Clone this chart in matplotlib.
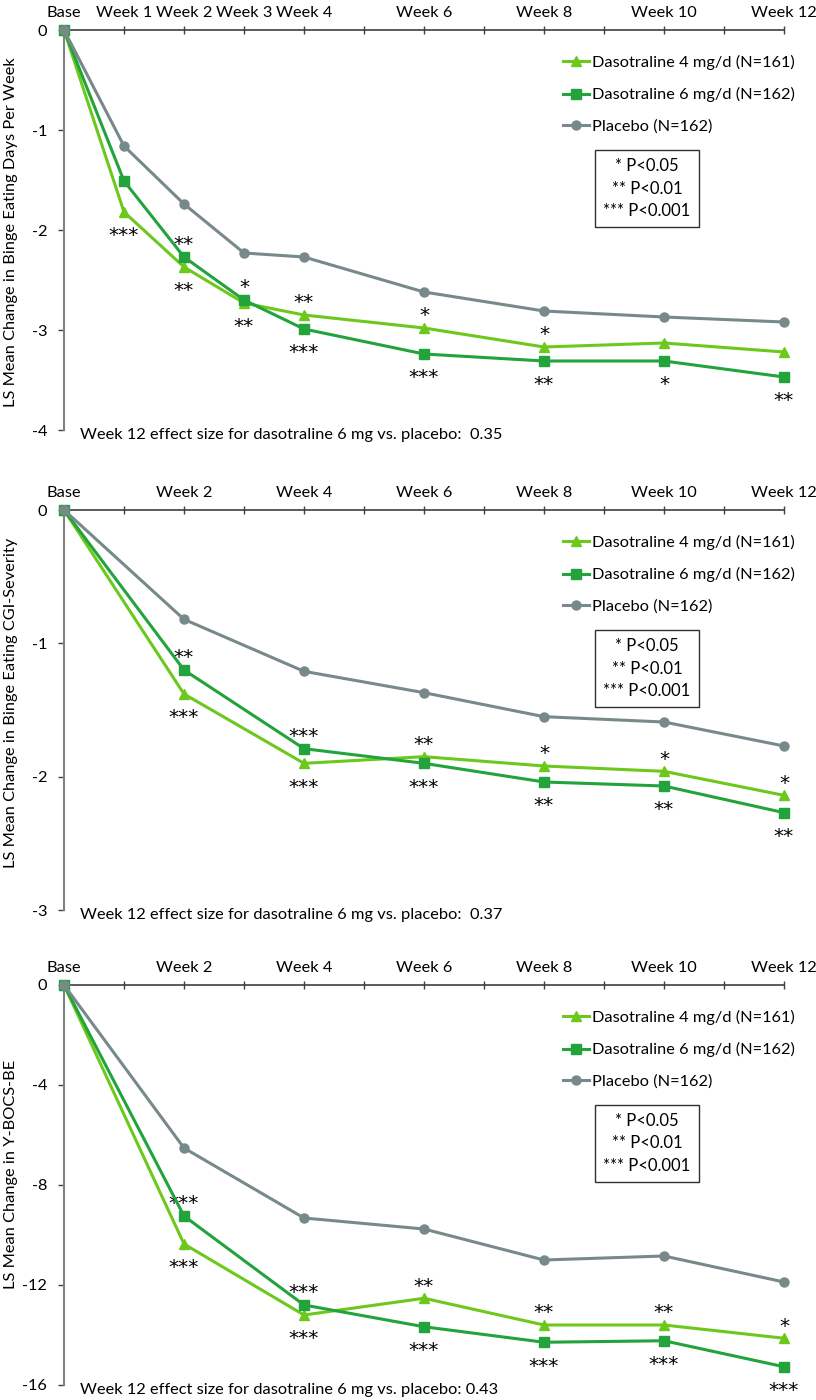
import numpy as np
import matplotlib
matplotlib.use("Agg")
import matplotlib.pyplot as plt
from matplotlib.lines import Line2D

plt.rcParams['font.family'] = ['Lato', 'DejaVu Sans']

# panel 1: binge eating days per week
weeks1 = [0, 1, 2, 3, 4, 6, 8, 10, 12]
xlab1 = ["Base", "Week 1", "Week 2", "Week 3", "Week 4", "Week 6", "Week 8", "Week 10", "Week 12"]
d4_1 = [0, -1.82, -2.37, -2.73, -2.85, -2.98, -3.17, -3.13, -3.22]
d6_1 = [0, -1.51, -2.27, -2.70, -2.99, -3.24, -3.31, -3.31, -3.47]
pl_1 = [0, -1.16, -1.74, -2.23, -2.27, -2.62, -2.81, -2.87, -2.92]
sig4_1 = ["", "***", "**", "**", "**", "*", "*", "", ""]
sig6_1 = ["", "", "**", "*", "***", "***", "**", "*", "**"]
yt1 = [0, -1, -2, -3, -4]

# panel 2: CGI-Severity
weeks2 = [0, 2, 4, 6, 8, 10, 12]
xlab2 = ["Base", "Week 2", "Week 4", "Week 6", "Week 8", "Week 10", "Week 12"]
d4_2 = [0, -1.38, -1.90, -1.85, -1.92, -1.96, -2.14]
d6_2 = [0, -1.20, -1.79, -1.90, -2.04, -2.07, -2.27]
pl_2 = [0, -0.82, -1.21, -1.37, -1.55, -1.59, -1.77]
sig4_2 = ["", "***", "***", "**", "*", "*", "*"]
sig6_2 = ["", "**", "***", "***", "**", "**", "**"]
yt2 = [0, -1, -2, -3]

# panel 3: Y-BOCS-BE
weeks3 = weeks2
xlab3 = xlab2
d4_3 = [0, -10.36, -13.2, -12.53, -13.6, -13.6, -14.13]
d6_3 = [0, -9.24, -12.8, -13.67, -14.29, -14.23, -15.27]
pl_3 = [0, -6.52, -9.32, -9.76, -11.0, -10.84, -11.88]
sig4_3 = ["", "***", "***", "**", "**", "**", "*"]
sig6_3 = ["", "***", "***", "***", "***", "***", "***"]
yt3 = [0, -4, -8, -12, -16]

ylabels = ["LS Mean Change in Binge Eating Days Per Week",
           "LS Mean Change in Binge Eating CGI-Severity",
           "LS Mean Change in Y-BOCS-BE"]
effect = ["Week 12 effect size for dasotraline 6 mg vs. placebo:  0.35",
          "Week 12 effect size for dasotraline 6 mg vs. placebo:  0.37",
          "Week 12 effect size for dasotraline 6 mg vs. placebo: 0.43"]
names = ["Dasotraline 4 mg/d (N=161)", "Dasotraline 6 mg/d (N=162)", "Placebo (N=162)"]

c4 = "#6CC91C"
c6 = "#22A33C"
cp = "#78898B"

fig = plt.figure(figsize=(8.16, 14), dpi=100)
W, H = 816, 1400
tops = [30, 510, 985]
ylab_y = [0.495, 0.518, 0.527]
panels = [
    (weeks1, xlab1, d4_1, d6_1, pl_1, sig4_1, sig6_1, yt1),
    (weeks2, xlab2, d4_2, d6_2, pl_2, sig4_2, sig6_2, yt2),
    (weeks3, xlab3, d4_3, d6_3, pl_3, sig4_3, sig6_3, yt3),
]

for i, (wk, xl, d4, d6, pl, s4, s6, yt) in enumerate(panels):
    top = tops[i]
    ax = fig.add_axes([64 / W, 1 - (top + 400) / H, 720 / W, 400 / H])
    ax.set_xlim(0, 12)
    ax.set_ylim(yt[-1], 0)

    ax.plot(wk, d4, color=c4, lw=2.2, marker="^", ms=7.5, clip_on=False, zorder=3)
    ax.plot(wk, d6, color=c6, lw=2.2, marker="s", ms=6.5, clip_on=False, zorder=4)
    ax.plot(wk, pl, color=cp, lw=2.2, marker="o", ms=6.5, clip_on=False, zorder=5)

    # significance stars: upper drug line gets stars above, lower one below
    off = 18 * 0.72  # points
    for j in range(len(wk)):
        for val, other, s in ((d4[j], d6[j], s4[j]), (d6[j], d4[j], s6[j])):
            if not s:
                continue
            dy = off if val >= other else -off
            ax.annotate(s, (wk[j], val), xytext=(0, dy - 14.5 * 0.56),
                        textcoords="offset points", ha="center", va="baseline",
                        fontsize=14.5, family="DejaVu Sans", color="black")

    ax.spines["right"].set_visible(False)
    ax.spines["bottom"].set_visible(False)
    ax.spines["top"].set_color("#404040")
    ax.spines["left"].set_color("#808080")
    ax.spines["top"].set_linewidth(1.2)
    ax.spines["left"].set_linewidth(1.5)

    ax.xaxis.tick_top()
    ax.set_xticks(range(13))
    ax.set_xticklabels([xl[wk.index(k)] if k in wk else "" for k in range(13)])
    ax.tick_params(axis="x", direction="inout", length=6, width=1, color="#404040",
                   labelsize=11.8, pad=4)
    ax.set_yticks(yt)
    ax.set_yticklabels([str(v) for v in yt])
    ax.tick_params(axis="y", direction="out", length=4, width=1, color="#404040",
                   labelsize=11.8, pad=8)

    ax.set_ylabel(ylabels[i], fontsize=11.8)
    ax.yaxis.set_label_coords(-46 / 720, ylab_y[i])

    handles = [Line2D([], [], color=c4, lw=2.2, marker="^", ms=7.5),
               Line2D([], [], color=c6, lw=2.2, marker="s", ms=6.5),
               Line2D([], [], color=cp, lw=2.2, marker="o", ms=6.5)]
    ax.legend(handles, names, loc="upper left", bbox_to_anchor=(499 / 720, 1 - 25 / 400),
              frameon=False, fontsize=11.8, handlelength=1.6, handletextpad=0.2,
              labelspacing=1.05, borderpad=0, borderaxespad=0)

    ax.text(583 / 720, 1 - 158.5 / 400, "* P<0.05\n** P<0.01\n*** P<0.001",
            transform=ax.transAxes, ha="center", va="center", multialignment="center",
            fontsize=12, linespacing=1.5,
            bbox=dict(boxstyle="square,pad=0.5", fc="white", ec="#303030", lw=1))

    ax.text(16 / 720, -5 / 400, effect[i], transform=ax.transAxes,
            ha="left", va="center", fontsize=11.8)

fig.savefig("out.png", dpi=100)
